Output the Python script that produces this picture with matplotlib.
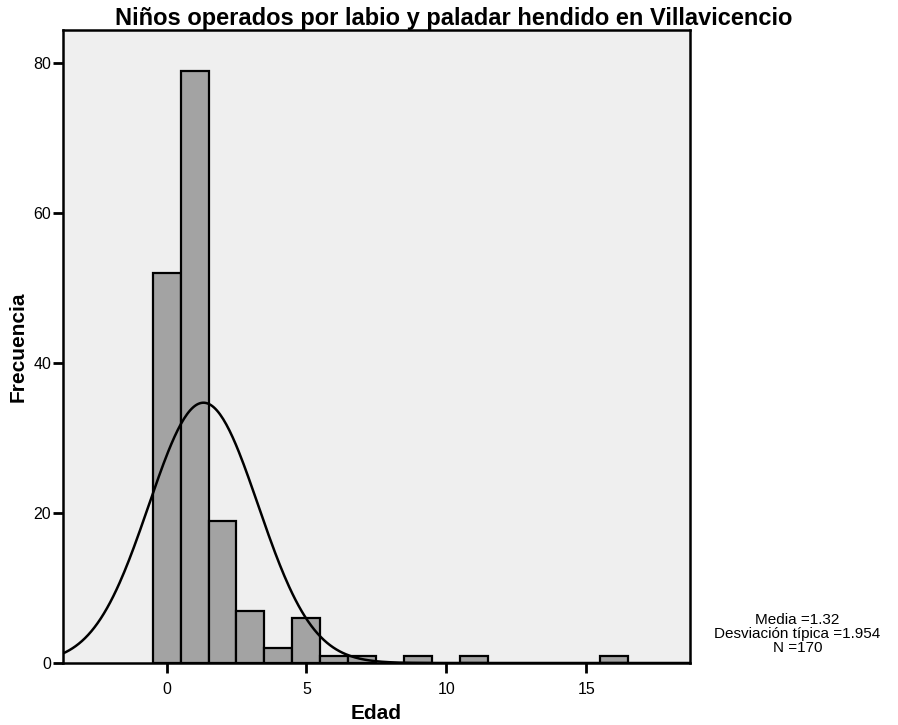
import numpy as np
import matplotlib.pyplot as plt

plt.rcParams['font.family'] = ['Liberation Sans', 'DejaVu Sans']

# frecuencia por edad (años)
edades = [0, 1, 2, 3, 4, 5, 6, 7, 9, 11, 16]
frecuencias = [52, 79, 19, 7, 2, 6, 1, 1, 1, 1, 1]

media = 1.32
desviacion = 1.954
n_total = 170
ancho_bin = 1.0

fig = plt.figure(figsize=(8.98, 7.25), dpi=100)
ax = fig.add_axes([0.0702, 0.0855, 0.6978, 0.8731])
ax.set_facecolor('#efefef')

ax.bar(edades, frecuencias, width=ancho_bin, color='#a3a3a3',
       edgecolor='black', linewidth=1.6, zorder=2)

# curva normal escalada a frecuencias
xlim = (-3.7, 18.7)
xs = np.linspace(xlim[0], xlim[1], 400)
ys = n_total * ancho_bin / (desviacion * np.sqrt(2 * np.pi)) * np.exp(-0.5 * ((xs - media) / desviacion) ** 2)
ax.plot(xs, ys, color='black', linewidth=1.8, zorder=3)

ax.set_xlim(xlim)
ax.set_ylim(0, 84.4)
ax.set_xticks([0, 5, 10, 15])
ax.set_yticks([0, 20, 40, 60, 80])
ax.tick_params(direction='out', length=7.5, width=2, labelsize=11.5)
ax.tick_params(axis='y', pad=1)
ax.tick_params(axis='x', pad=6)
for s in ax.spines.values():
    s.set_linewidth(1.8)

fig.text(0.505, 0.975, 'Niños operados por labio y paladar hendido en Villavicencio',
         ha='center', va='center', fontsize=17, fontweight='bold')
ax.set_xlabel('Edad', fontsize=15, fontweight='bold', va='center')
ax.set_ylabel('Frecuencia', fontsize=15, fontweight='bold', va='center')
ax.xaxis.set_label_coords(0.5, -50 / 633)
ax.yaxis.set_label_coords(-44.5 / 627, 0.5)

fig.text(0.888, 0.125,
         'Media =%.2f\nDesviación típica =%.3f\nN =%d' % (media, desviacion, n_total),
         ha='center', va='center', fontsize=11, linespacing=1.0)

fig.savefig('out.png', dpi=100, facecolor='white')
